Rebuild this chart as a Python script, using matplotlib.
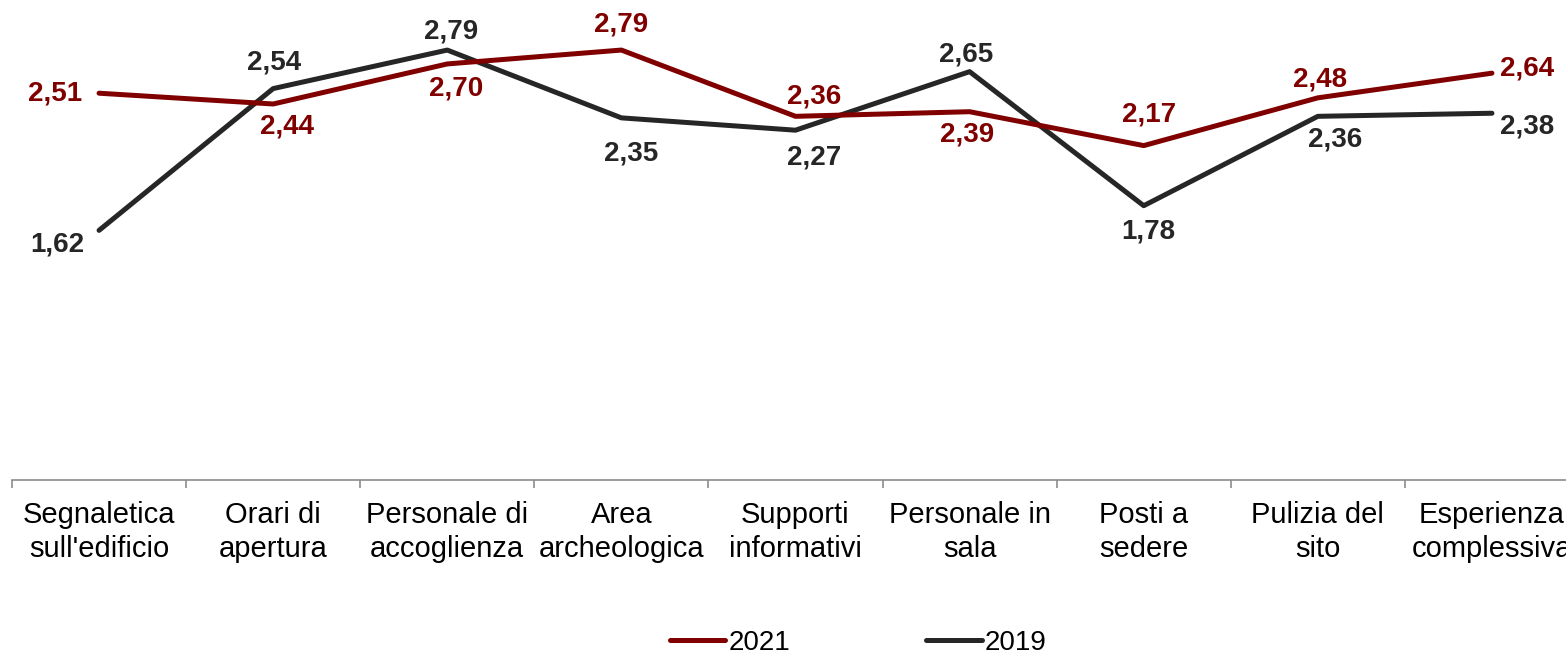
import matplotlib
matplotlib.use("Agg")
import matplotlib.pyplot as plt

plt.rcParams['font.family'] = ['Liberation Sans', 'DejaVu Sans']

categories = ["Segnaletica\nsull'edificio", "Orari di\napertura", "Personale di\naccoglienza",
              "Area\narcheologica", "Supporti\ninformativi", "Personale in\nsala",
              "Posti a\nsedere", "Pulizia del\nsito", "Esperienza\ncomplessiva"]
values_2021 = [2.51, 2.44, 2.70, 2.79, 2.36, 2.39, 2.17, 2.48, 2.64]
values_2019 = [1.62, 2.54, 2.79, 2.35, 2.27, 2.65, 1.78, 2.36, 2.38]

# label offsets from each point, in pixels (x right, y up)
offsets_2021 = [(-44, 0), (14, -23), (9, -25), (0, 26), (19, 20), (-3, -23), (5, 31), (2, 18), (35, 5)]
offsets_2019 = [(-42, -14), (1, 26), (4, 19), (10, -36), (19, -27), (-3, 17), (5, -26), (17, -23), (35, -13)]

red = "#800000"
dark = "#262626"

W, H = 1566, 654
fig = plt.figure(figsize=(W / 100, H / 100), dpi=100)
left, right, bottom, top = 12, 1579, 480, 17.7
ax = fig.add_axes([left / W, 1 - bottom / H, (right - left) / W, (bottom - top) / H])

x = list(range(len(categories)))
l1, = ax.plot(x, values_2021, color=red, lw=3.6, solid_capstyle='round', label='2021', zorder=3)
l2, = ax.plot(x, values_2019, color=dark, lw=3.6, solid_capstyle='round', label='2019', zorder=2)

ax.set_xlim(-0.5, len(categories) - 0.5)
ax.set_ylim(0, 3)

def fmt(v):
    return f"{v:.2f}".replace('.', ',')

for vals, offs, col in [(values_2021, offsets_2021, red), (values_2019, offsets_2019, dark)]:
    for xi, v, (dx, dy) in zip(x, vals, offs):
        ax.annotate(fmt(v), (xi, v), xytext=(dx * 0.72, dy * 0.72), textcoords='offset points',
                    ha='center', va='center', fontsize=20, fontweight='bold', color=col, zorder=5)

for s in ['top', 'right', 'left']:
    ax.spines[s].set_visible(False)
ax.spines['bottom'].set_color('#8c8c8c')
ax.spines['bottom'].set_linewidth(1.2)
ax.set_yticks([])
ax.set_xticks([i - 0.5 for i in range(len(categories) + 1)], minor=False)
ax.set_xticklabels([])
ax.set_xticks(x, minor=True)
ax.set_xticklabels(categories, minor=True, fontsize=21, color='black', linespacing=1.28)
ax.tick_params(axis='x', which='major', direction='out', length=6, width=1.2, color='#8c8c8c')
ax.tick_params(axis='x', which='minor', length=0, pad=15)

fig.legend(handles=[l1, l2], loc='center', bbox_to_anchor=(858 / W, 1 - 643 / H), ncol=2,
           frameon=False, fontsize=20, handlelength=2.0, handletextpad=0.1, columnspacing=4.9)

fig.savefig("out.png", dpi=100)
